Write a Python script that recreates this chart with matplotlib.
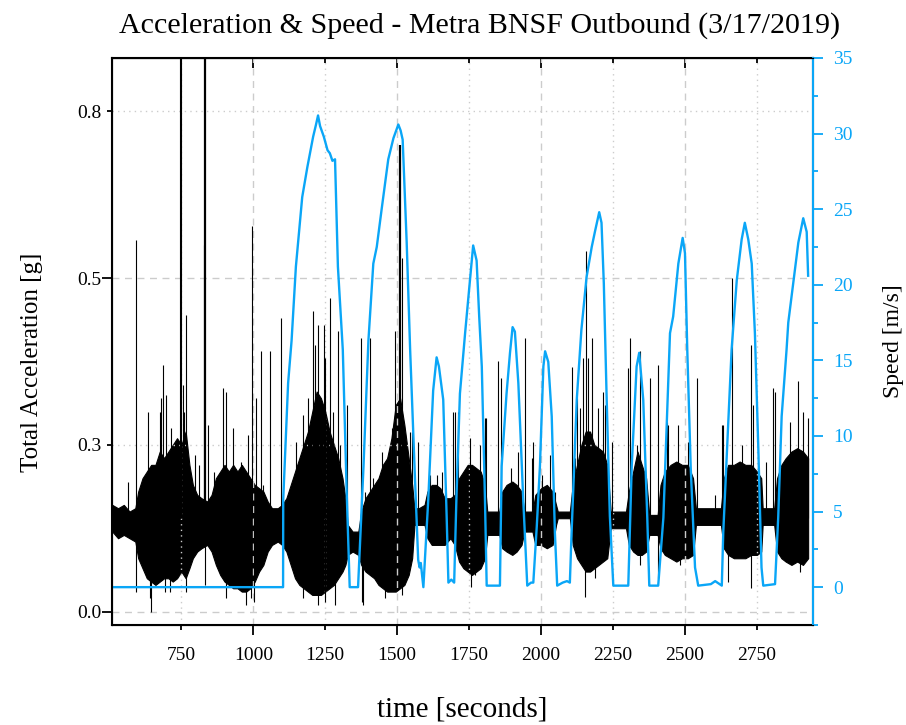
import matplotlib
matplotlib.use('Agg')
import matplotlib.pyplot as plt
from matplotlib.ticker import MultipleLocator, NullFormatter

plt.rcParams['font.family'] = ['Liberation Serif', 'DejaVu Serif']

# --- speed (m/s) ---
speed_t = [508, 1103.5, 1104, 1121, 1133, 1148, 1170, 1188, 1208, 1218, 1225, 1232, 1245, 1258,
           1266, 1275, 1284, 1294, 1311, 1325, 1335, 1364, 1383, 1400, 1417, 1429, 1446, 1469,
           1487, 1504, 1512, 1519, 1533, 1545, 1562, 1573, 1578, 1582, 1591, 1608, 1625, 1637,
           1645, 1660, 1672, 1678, 1688, 1698, 1706, 1718, 1736, 1751, 1764, 1776, 1785, 1794,
           1805, 1811, 1857, 1863, 1880, 1892, 1901, 1909, 1921, 1938, 1952, 1965, 1973, 1985,
           1996, 2008, 2014, 2025, 2037, 2048, 2056, 2075, 2090, 2100, 2106, 2124, 2140, 2158,
           2176, 2187, 2202, 2210, 2218, 2228, 2239, 2251, 2303, 2315, 2332, 2341, 2355, 2369,
           2376, 2407, 2425, 2448, 2459, 2477, 2492, 2500, 2508, 2520, 2535, 2546, 2590, 2605,
           2620, 2628, 2633, 2662, 2680, 2697, 2708, 2720, 2732, 2743, 2755, 2766, 2772, 2813,
           2824, 2836, 2853, 2859, 2876, 2894, 2911, 2923, 2928]
speed_v = [0, 0, 5.8, 13.5, 16.3, 21.2, 25.8, 27.8, 29.8, 30.6, 31.2, 30.5, 29.8, 28.9,
           28.7, 28.2, 28.3, 21.2, 15.7, 6.0, 0, 0, 8.0, 16.3, 21.4, 22.5, 25.0, 28.3,
           29.7, 30.6, 30.2, 29.6, 22.8, 15.7, 7.1, 1.8, 1.3, 1.6, 0, 5.8, 13.0, 15.2,
           14.6, 12.4, 4.6, 0.3, 0.5, 0.3, 6.0, 12.8, 16.8, 19.9, 22.6, 21.6, 17.9, 14.6,
           5.8, 0.1, 0.1, 8.0, 12.8, 15.5, 17.2, 16.9, 13.5, 5.8, 0.1, 0.3, 0.3, 4.0,
           8.0, 14.6, 15.6, 14.9, 11.3, 3.6, 0.1, 0.3, 0.4, 0.3, 3.6, 12.4, 17.0, 20.5,
           22.5, 23.5, 24.8, 24.1, 20.1, 12.4, 4.7, 0.1, 0.1, 8.0, 14.6, 15.5, 12.4, 4.6,
           0.1, 0.1, 4.6, 16.8, 17.9, 21.4, 23.1, 22.1, 15.7, 7.9, 1.3, 0.1, 0.2, 0.4,
           0.2, 0.1, 3.6, 15.7, 20.3, 23.0, 24.1, 23.0, 21.4, 16.8, 9.1, 1.3, 0.1, 0.2,
           4.6, 11.3, 15.7, 17.5, 20.1, 22.8, 24.4, 23.5, 20.6]

# --- total acceleration (g): envelope of the dense black trace ---
band_t = [510, 530, 550, 570, 590, 600, 615, 630, 645, 660,
          675, 690, 705, 720, 735, 750, 765, 778, 790, 805,
          820, 840, 855, 870, 885, 900, 915, 930, 945, 960,
          975, 990, 1005, 1020, 1035, 1050, 1065, 1085, 1100, 1115,
          1130, 1145, 1160, 1175, 1190, 1205, 1220, 1235, 1250, 1265,
          1280, 1295, 1310, 1320, 1328, 1345, 1365, 1375, 1390, 1405,
          1420, 1435, 1450, 1465, 1480, 1495, 1510, 1525, 1540, 1552,
          1560, 1575, 1595, 1605, 1620, 1635, 1650, 1665, 1685, 1700,
          1715, 1730, 1745, 1760, 1775, 1790, 1805, 1813, 1855, 1865,
          1880, 1900, 1915, 1932, 1942, 1970, 1980, 2000, 2020, 2040,
          2052, 2058, 2100, 2110, 2125, 2140, 2155, 2170, 2185, 2200,
          2215, 2230, 2242, 2295, 2305, 2320, 2335, 2350, 2365, 2376,
          2405, 2415, 2430, 2450, 2470, 2490, 2510, 2528, 2538, 2625,
          2635, 2650, 2670, 2690, 2710, 2730, 2750, 2765, 2770, 2810,
          2820, 2835, 2850, 2870, 2890, 2910, 2928]
band_hi = [.16, .155, .16, .15, .155, .18, .20, .21, .22, .22,
           .24, .23, .24, .25, .26, .25, .27, .22, .19, .175,
           .17, .165, .175, .20, .21, .22, .21, .22, .21, .22,
           .21, .20, .19, .185, .18, .165, .155, .155, .16, .17,
           .19, .21, .23, .25, .27, .30, .33, .32, .30, .27,
           .25, .23, .20, .17, .13, .12, .12, .15, .17, .18,
           .19, .20, .22, .23, .26, .31, .32, .28, .23, .19,
           .155, .155, .16, .18, .19, .19, .185, .17, .17, .175,
           .20, .21, .22, .22, .215, .21, .19, .15, .15, .18,
           .19, .195, .19, .18, .15, .15, .175, .185, .19, .18,
           .16, .15, .15, .19, .22, .25, .27, .27, .25, .245,
           .24, .22, .15, .15, .18, .21, .24, .22, .20, .145,
           .145, .19, .21, .22, .225, .22, .22, .20, .155, .155,
           .20, .22, .22, .225, .22, .22, .21, .20, .155, .155,
           .20, .22, .23, .24, .245, .24, .23]
band_lo = [.12, .11, .115, .11, .105, .08, .065, .05, .045, .04,
           .045, .05, .05, .045, .05, .06, .05, .065, .08, .09,
           .095, .10, .09, .07, .055, .045, .04, .035, .035, .03,
           .03, .035, .045, .06, .07, .09, .10, .105, .10, .09,
           .07, .05, .04, .035, .03, .025, .025, .025, .03, .035,
           .04, .05, .06, .07, .085, .09, .085, .07, .06, .055,
           .05, .04, .035, .03, .03, .03, .035, .04, .055, .08,
           .13, .13, .13, .11, .10, .10, .10, .10, .11, .10,
           .075, .065, .06, .055, .06, .065, .08, .115, .115, .095,
           .09, .085, .09, .10, .12, .12, .10, .10, .095, .10,
           .13, .14, .14, .10, .08, .07, .06, .06, .065, .07,
           .075, .08, .125, .125, .10, .09, .085, .085, .09, .115,
           .115, .095, .085, .08, .075, .08, .08, .085, .13, .13,
           .095, .085, .08, .08, .08, .085, .085, .09, .13, .13,
           .09, .08, .075, .07, .075, .07, .08]

# isolated peaks above / below the band
spike_up_t = [564, 592, 634, 651, 675, 680, 687, 698, 715, 727, 746, 749, 755, 759, 766,
              796, 813, 829, 842, 863, 895, 905, 929, 958, 981, 994, 1010, 1027, 1033, 1058,
              1096, 1150, 1174, 1191, 1208, 1214, 1225, 1246, 1249, 1266, 1278, 1293, 1301,
              1325, 1374, 1388, 1405, 1417, 1446, 1457, 1481, 1492, 1515, 1544, 1550, 1573,
              1614, 1637, 1654, 1695, 1701, 1712, 1753, 1787, 1805, 1808, 1851, 1861, 1897,
              1921, 1944, 1967, 1971, 2002, 2031, 2048, 2106, 2118, 2124, 2135, 2146, 2155,
              2164, 2176, 2199, 2216, 2222, 2245, 2302, 2309, 2332, 2344, 2378, 2407, 2436,
              2442, 2477, 2511, 2541, 2604, 2627, 2631, 2662, 2697, 2731, 2737, 2783, 2807,
              2812, 2864, 2894, 2911, 2928]
spike_up_a = [.195, .557, .30, .215, .30, .32, .37, .325, .275, .245, .83, .83, .34, .30, .445,
              .235, .22, .55, .28, .21, .335, .33, .275, .225, .265, .578, .32, .39, .19, .39,
              .44, .255, .295, .32, .45, .40, .43, .43, .38, .47, .30, .42, .25,
              .31, .41, .18, .41, .20, .24, .22, .275, .42, .53, .27, .27, .255,
              .205, .205, .21, .30, .30, .30, .26, .25, .29, .29, .375, .35, .215,
              .24, .41, .23, .255, .205, .235, .18, .367, .23, .32, .305, .38, .54,
              .38, .41, .305, .33, .31, .255, .365, .41, .25, .39, .35, .37, .285,
              .28, .28, .255, .35, .175, .28, .28, .50, .25, .40, .31, .225, .335,
              .33, .285, .345, .30, .29]
spike_thick_t = [832, 1510]
spike_thick_a = [.83, .70]
spike_dn_t = [591, 640, 643, 692, 709, 767, 831, 906, 976, 993, 1004, 1174, 1226, 1249, 1284,
              1376, 1382, 1457, 1515, 1758, 1770, 2152, 2187, 2343, 2407, 2482, 2650, 2731, 2899]
spike_dn_a = [.03, .02, .0, .03, .03, .03, .04, .02, .01, .02, .015, .02, .01, .015, .01,
              .015, .01, .02, .025, .037, .055, .022, .05, .07, .05, .07, .045, .035, .06]

x_major = [1000, 1500, 2000, 2500]
x_minor = [750, 1250, 1750, 2250, 2750]
y_major = [0.0, 0.5]
y_major_labels = ['0.0', '0.5']
y_minor = [0.25, 0.75]
y_minor_labels = ['0.3', '0.8']

blue = '#0AA6F7'

fig = plt.figure(figsize=(9.06, 7.25), dpi=100)
ax = fig.add_axes([0.1233, 0.138, 0.7744, 0.782])

ax.fill_between(band_t, band_lo, band_hi, facecolor='black', edgecolor='black', lw=0.8)
ax.vlines(spike_up_t, 0.14, spike_up_a, color='black', lw=0.8)
ax.vlines(spike_thick_t, 0.14, spike_thick_a, color='black', lw=1.6)
ax.vlines(spike_dn_t, spike_dn_a, 0.14, color='black', lw=0.8)

ax.set_xlim(508, 2946)
ax.set_ylim(-0.02, 0.83)

ax.set_xticks(x_major)
ax.set_xticks(x_minor, labels=[str(v) for v in x_minor], minor=True)
ax.set_yticks(y_major, labels=y_major_labels)
ax.set_yticks(y_minor, labels=y_minor_labels, minor=True)
ax.tick_params(which='both', direction='out', labelsize=14, width=1.3)
ax.tick_params(which='major', length=7)
ax.tick_params(which='minor', length=3.8)
ax.tick_params(axis='x', which='major', pad=9)
ax.tick_params(axis='x', which='minor', pad=12.2)
ax.tick_params(axis='y', which='major', pad=0.5)
ax.tick_params(axis='y', which='minor', pad=3.7)

ax.grid(which='major', ls=(0, (5, 4)), color='#cccccc', lw=1)
ax.grid(which='minor', ls=(0, (1, 3)), color='#cccccc', lw=1)

top = ax.secondary_xaxis('top')
top.set_xticks(x_major)
top.set_xticks(x_minor, minor=True)
top.xaxis.set_major_formatter(NullFormatter())
top.xaxis.set_minor_formatter(NullFormatter())
top.tick_params(which='both', direction='in', width=1.3)
top.tick_params(which='major', length=7)
top.tick_params(which='minor', length=3.8)

for s in ax.spines.values():
    s.set_linewidth(1.5)

ax.set_xlabel('time [seconds]', fontsize=21, labelpad=23)
ax.set_ylabel('Total Acceleration [g]', fontsize=18)
ax.yaxis.set_label_coords(-0.098, 0.464)
ax.set_title('Acceleration & Speed - Metra BNSF Outbound (3/17/2019)', fontsize=21.6,
             pad=18, x=0.525)

ax2 = ax.twinx()
ax2.plot(speed_t, speed_v, color=blue, lw=1.7)
ax2.set_ylim(-2.5, 35)
ax2.yaxis.set_major_locator(MultipleLocator(5))
ax2.yaxis.set_minor_locator(MultipleLocator(2.5))
ax2.tick_params(axis='y', which='both', colors=blue, labelsize=14, width=1.3, direction='out')
ax2.tick_params(axis='y', which='major', length=7, pad=7)
ax2.tick_params(axis='y', which='minor', length=3.8)
ax2.spines['right'].set_color(blue)
ax2.spines['right'].set_linewidth(1.5)
ax2.set_ylabel('Speed [m/s]', fontsize=17, labelpad=22)

fig.savefig('out.png', dpi=100)
